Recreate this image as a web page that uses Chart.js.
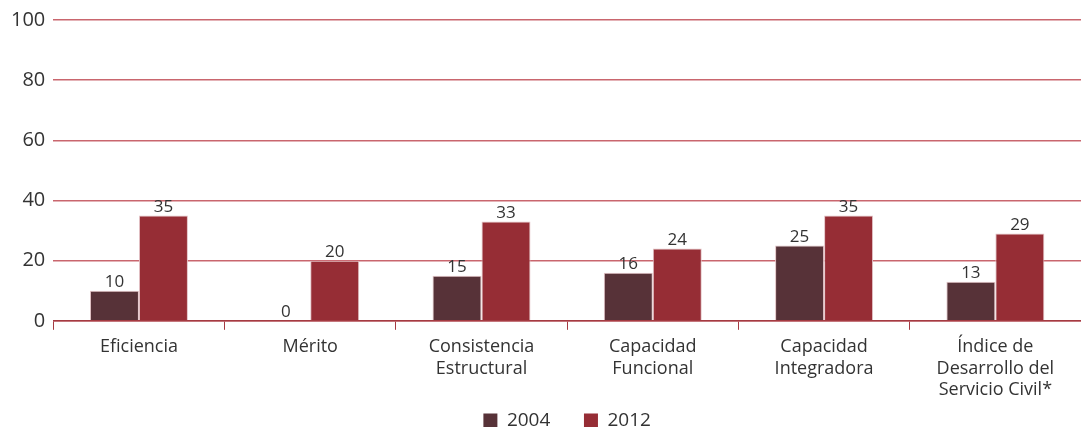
<!DOCTYPE html>
<html>
<head>
<meta charset="utf-8">
<script src="https://cdn.jsdelivr.net/npm/chart.js@4"></script>
<style>
  html, body { margin: 0; padding: 0; background: #fff; overflow: hidden; }
  #wrap { width: 1081px; height: 440px; }
</style>
</head>
<body>
<div id="wrap"><canvas id="barChart"></canvas></div>
<script>
const categories = [
    'Eficiencia',
    'Mérito',
    ['Consistencia', 'Estructural'],
    ['Capacidad', 'Funcional'],
    ['Capacidad', 'Integradora'],
    ['Índice de', 'Desarrollo del', 'Servicio Civil*']
];
const values2004 = [10, 0, 15, 16, 25, 13];
const values2012 = [35, 20, 33, 24, 35, 29];
const yTicks = [0, 20, 40, 60, 80, 100];

const color = ['#573238', '#962d35'];
const gridColor = '#c9666e';
const axisColor = '#a53a42';
const FONT = '"Open Sans", "DejaVu Sans", sans-serif';

// value labels above each bar
const valueLabels = {
    id: 'valueLabels',
    afterDatasetsDraw(chart) {
        const ctx = chart.ctx;
        ctx.save();
        ctx.font = '17px ' + FONT;
        ctx.fillStyle = '#333';
        ctx.textAlign = 'center';
        ctx.textBaseline = 'bottom';
        chart.data.datasets.forEach((ds, i) => {
            chart.getDatasetMeta(i).data.forEach((bar, j) => {
                ctx.fillText(ds.data[j], bar.x, bar.y);
            });
        });
        ctx.restore();
    }
};

// keep the legend centred under the plot area, not the whole canvas
const centerLegend = {
    id: 'centerLegend',
    afterLayout(chart) {
        const lg = chart.legend, area = chart.chartArea;
        const shift = (area.left + area.right) / 2 - (lg.left + lg.right) / 2;
        lg.left += shift;
        lg.right += shift;
    }
};

const CHART = document.getElementById('barChart');
new Chart(CHART, {
    type: 'bar',
    data: {
        labels: categories,
        datasets: [
            {
                label: '2004',
                data: values2004,
                backgroundColor: color[0],
                borderColor: '#e3c3c6',
                borderWidth: 1
            },
            {
                label: '2012',
                data: values2012,
                backgroundColor: color[1],
                borderColor: '#e3c3c6',
                borderWidth: 1
            }
        ]
    },
    options: {
        responsive: true,
        maintainAspectRatio: false,
        animation: false,
        layout: { padding: { top: 10, right: 0, left: 3, bottom: 0 } },
        datasets: { bar: { categoryPercentage: 0.572, barPercentage: 1.0 } },
        plugins: {
            tooltip: { enabled: false },
            legend: {
                position: 'bottom',
                labels: {
                    color: '#333',
                    font: { family: FONT, size: 19 },
                    boxWidth: 14,
                    boxHeight: 14,
                    padding: 4,
                    // wider gap after the first entry
                    generateLabels(chart) {
                        const items = Chart.defaults.plugins.legend.labels.generateLabels(chart);
                        items[0].text += '      ';
                        items.forEach(it => { it.lineWidth = 0; });
                        return items;
                    }
                }
            }
        },
        scales: {
            x: {
                grid: {
                    offset: true,
                    drawOnChartArea: false,
                    color: axisColor,
                    tickLength: 9
                },
                border: { color: axisColor, width: 1.5 },
                ticks: {
                    color: '#333',
                    font: { family: FONT, size: 18, lineHeight: 1.17 },
                    maxRotation: 0,
                    padding: 7
                }
            },
            y: {
                min: 0,
                max: 100,
                afterBuildTicks(axis) {
                    axis.ticks = yTicks.map(v => ({ value: v }));
                },
                grid: {
                    color: gridColor,
                    lineWidth: 1.5,
                    drawTicks: false
                },
                border: { display: false },
                ticks: {
                    color: '#333',
                    font: { family: FONT, size: 20 },
                    padding: 8
                }
            }
        }
    },
    plugins: [valueLabels, centerLegend]
});
</script>
</body>
</html>
